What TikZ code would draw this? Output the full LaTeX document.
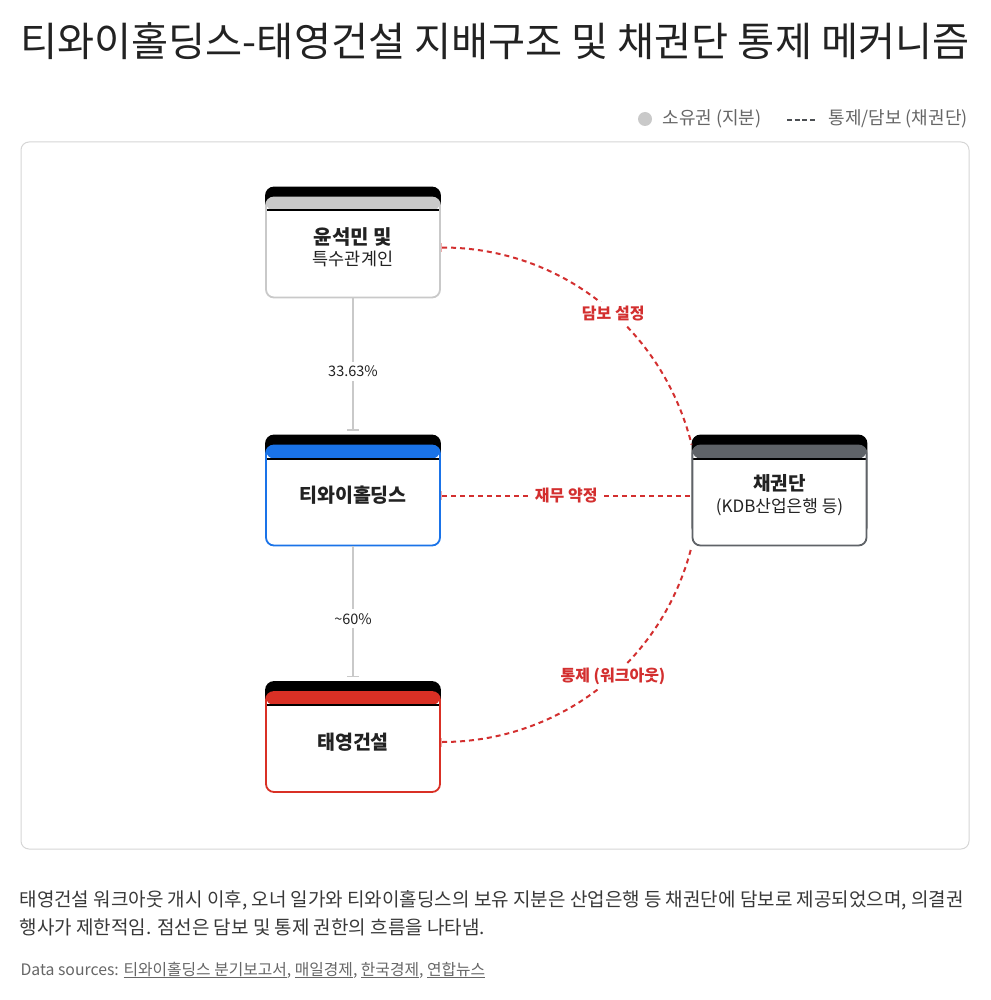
\documentclass[tikz,border=0pt]{standalone}
\usepackage{fontspec}
\setmainfont{Noto Sans CJK KR}
\usetikzlibrary{arrows.meta,positioning,shadows}
\definecolor{tyred}{HTML}{D93025}
\definecolor{tyblue}{HTML}{1A73E8}
\definecolor{tygrey}{HTML}{C9C9C9}
\definecolor{tydark}{HTML}{5F6368}
\definecolor{tytext}{HTML}{222222}
\definecolor{tymuted}{HTML}{666666}
\definecolor{tydash}{HTML}{D32F2F}
\definecolor{tyframe}{HTML}{D5D5D5}

\tikzset{
  entity/.style={rectangle, rounded corners=8pt, draw=#1, line width=1.8pt, fill=white,
    minimum width=174pt, minimum height=100pt, align=center, text=tytext,
    general shadow={fill=black, draw=black, line width=1.8pt, shadow yshift=10pt},
    path picture={
      \fill[#1] (path picture bounding box.north west) rectangle ([yshift=-13pt]path picture bounding box.north east);
      \draw[black, line width=2pt] ([yshift=-13pt]path picture bounding box.north west) -- ([yshift=-13pt]path picture bounding box.north east);
    }},
  ownline/.style={draw=tygrey, line width=1.5pt, shorten >=14pt, -{Bar[width=12pt,line width=1.5pt]}},
  pct/.style={fill=white, text=tytext, font=\fontsize{14.5}{17}\selectfont, inner sep=4pt},
  ctrl/.style={draw=tydash, line width=2pt, dash pattern=on 5pt off 4pt, {Bar[width=9pt,line width=1.5pt,color=tydash!40]}-},
  ctrllabel/.style={fill=white, text=tydash, font=\fontsize{16}{18}\selectfont\bfseries, inner sep=4pt},
}

\begin{document}
\begin{tikzpicture}[x=1pt, y=1pt]
\useasboundingbox (0,0) rectangle (990,-1000);

% title and legend
\node[anchor=west, text=tytext, font=\fontsize{40.3}{44}\selectfont] (title) at (17,-41)
  {티와이홀딩스-태영건설 지배구조 및 채권단 통제 메커니즘};
\node[circle, fill=tygrey, minimum size=14pt, inner sep=0pt] (legdot) at (645,-119) {};
\node[anchor=west, text=tymuted, font=\fontsize{18}{20}\selectfont] (legown) at (659,-119) {소유권 (지분)};
\coordinate (legdashA) at (787,-120);
\coordinate (legdashB) at (815,-120);
\draw[draw=tydark!80!black, line width=2pt, dash pattern=on 5pt off 2.7pt] (legdashA) -- (legdashB);
\node[anchor=west, text=tymuted, font=\fontsize{18}{20}\selectfont] (legctrl) at (825,-119) {통제/담보 (채권단)};

% frame
\draw[tyframe, line width=1pt, rounded corners=8pt] (21,-142) rectangle (969,-849);

% entities
\node[entity=tygrey] (own) at (353,-247.5)
  {{\fontsize{20}{22}\selectfont\bfseries 윤석민 및}\\[4pt]{\fontsize{17.5}{20}\selectfont 특수관계인}};
\node[entity=tyblue] (hold) at (353,-495.5) {\fontsize{19.5}{22}\selectfont\bfseries 티와이홀딩스};
\node[entity=tyred] (ty) at (353,-742) {\fontsize{19.5}{22}\selectfont\bfseries 태영건설};
\node[entity=tydark] (cred) at (779.5,-495.5)
  {{\fontsize{19}{22}\selectfont\bfseries 채권단}\\[5pt]{\fontsize{17}{20}\selectfont (KDB산업은행 등)}};

% ownership
\draw[ownline] (own) -- node[pct] {33.63\%} (hold);
\draw[ownline] (hold) -- node[pct] {\textasciitilde60\%} (ty);

% control / collateral
\draw[ctrl] (own.east) to[out=0, in=104, distance=120pt] node[ctrllabel, pos=0.55] {담보 설정} (cred.north west);
\draw[ctrl] (hold.east) -- node[ctrllabel] {재무 약정} (cred.west);
\draw[ctrl] (ty.east) to[out=0, in=256, distance=119pt] node[ctrllabel, pos=0.55] {통제 (워크아웃)} (cred.south west);

% notes
\node[anchor=north west, align=left, text=tytext!90, font=\fontsize{19}{28}\selectfont] (note) at (16,-887)
  {태영건설 워크아웃 개시 이후, 오너 일가와 티와이홀딩스의 보유 지분은 산업은행 등 채권단에 담보로 제공되었으며, 의결권\\
   행사가 제한적임. 점선은 담보 및 통제 권한의 흐름을 나타냄.};
\node[anchor=west, text=tymuted, font=\fontsize{15.8}{18}\selectfont] (src) at (17,-970)
  {Data sources: \underline{티와이홀딩스 분기보고서}, \underline{매일경제}, \underline{한국경제}, \underline{연합뉴스}};
\end{tikzpicture}
\end{document}
